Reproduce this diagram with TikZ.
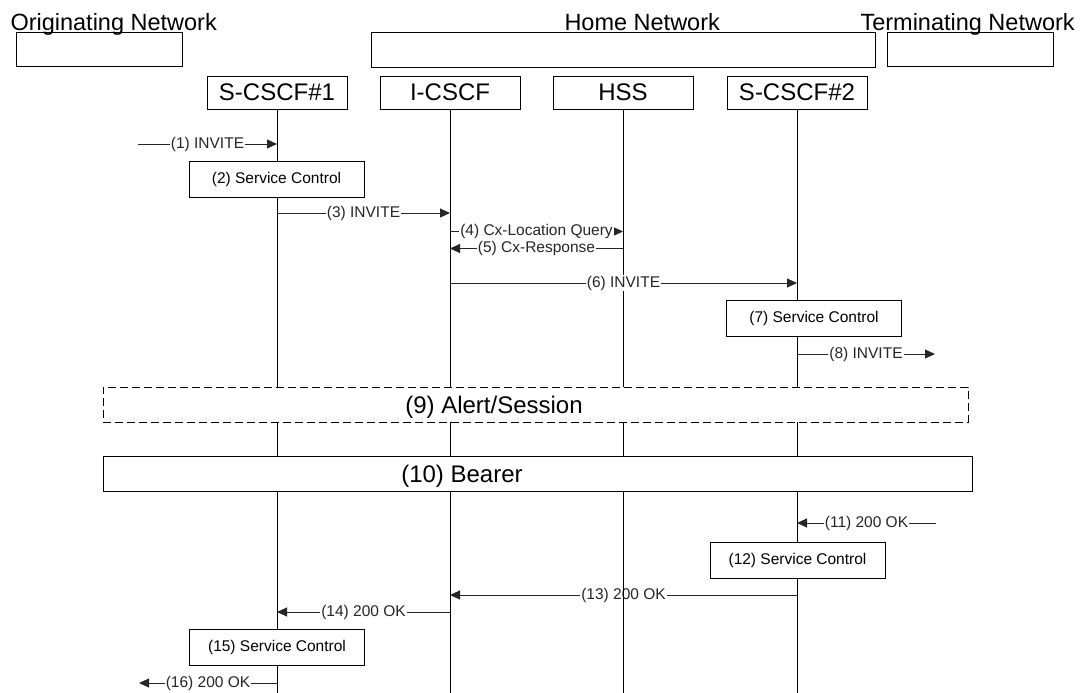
\documentclass[tikz,border=0pt]{standalone}
\usepackage{fontspec}
\setmainfont{Liberation Sans}
\usetikzlibrary{arrows.meta}

\begin{document}
\begin{tikzpicture}[x=1pt, y=-1pt, line width=1pt,
  every node/.style={font=\fontsize{15.5}{18}\selectfont},
  hdr/.style={font=\fontsize{23.5}{28}\selectfont, inner sep=0pt, anchor=base west},
  netbox/.style={draw, minimum height=34, inner sep=0pt},
  ent/.style={draw, fill=white, minimum width=140, minimum height=33, inner sep=0pt, font=\fontsize{24}{28}\selectfont},
  ctrl/.style={draw, fill=white, minimum width=175, minimum height=36, inner sep=0pt},
  phase/.style={draw, fill=white, minimum height=35, inner sep=0pt},
  big/.style={font=\fontsize{24}{28}\selectfont, inner sep=0pt, anchor=base},
  life/.style={black},
  msg/.style={black!85, -{Triangle[length=10pt, width=9pt]}},
  lbl/.style={fill=white, inner sep=1pt}]
  \useasboundingbox (0,0) rectangle (1081,693);
  \node[hdr] (ohdr) at (10,31) {Originating Network};
  \node[hdr] (hhdr) at (564,31) {Home Network};
  \node[hdr] (thdr) at (860,31) {Terminating Network};
  \node[netbox, minimum width=166] (onet) at (99,50) {};
  \node[netbox, minimum width=504, minimum height=35] (hnet) at (623,50.5) {};
  \node[netbox, minimum width=166] (tnet) at (970,50) {};
  \node[ent] (s1) at (277,92.5) {S-CSCF\#1};
  \node[ent] (ic) at (450,92.5) {I-CSCF};
  \node[ent] (hss) at (623,92.5) {HSS};
  \node[ent] (s2) at (797,92.5) {S-CSCF\#2};
  \draw[msg] (s2 |- 0,595) -- node[lbl] {(13) 200 OK} (ic |- 0,595);
  \coordinate (s1end) at (s1 |- 0,693); \coordinate (icend) at (ic |- 0,693);
  \coordinate (hssend) at (hss |- 0,693); \coordinate (s2end) at (s2 |- 0,693);
  \draw[life] (s1) -- (s1end); \draw[life] (ic) -- (icend);
  \draw[life] (hss) -- (hssend); \draw[life] (s2) -- (s2end);
  \coordinate (in1) at (138,144);
  \draw[msg] (in1) -- node[lbl] {(1) INVITE} (s1 |- in1);
  \node[ctrl] (sc2) at (276.5,179.5) {(2) Service Control};
  \draw[msg] (s1 |- 0,213) -- node[lbl] {(3) INVITE} (ic |- 0,213);
  \draw[msg] (ic |- 0,231.5) -- node[lbl] {(4) Cx-Location Query} (hss |- 0,231.5);
  \draw[msg] (hss |- 0,248.5) -- node[lbl] {(5) Cx-Response} (ic |- 0,248.5);
  \draw[msg] (ic |- 0,283) -- node[lbl] {(6) INVITE} (s2 |- 0,283);
  \node[ctrl] (sc7) at (814,318) {(7) Service Control};
  \coordinate (out8) at (935,354);
  \draw[msg] (s2 |- out8) -- node[lbl] {(8) INVITE} (out8);
  \node[phase, dash pattern=on 8pt off 4pt, minimum width=865] (alert) at (535.5,404.5) {};
  \node[big] (alertlbl) at (494,413) {(9) Alert/Session};
  \node[phase, minimum width=869] (bearer) at (537.5,473.5) {};
  \node[big] (bearerlbl) at (462,482) {(10) Bearer};
  \coordinate (in11) at (936,523);
  \draw[msg] (in11) -- node[lbl] {(11) 200 OK} (s2 |- in11);
  \node[ctrl] (sc12) at (797.5,560) {(12) Service Control};
  \draw[msg] (ic |- 0,612) -- node[lbl] {(14) 200 OK} (s1 |- 0,612);
  \node[ctrl] (sc15) at (277,647) {(15) Service Control};
  \coordinate (out16) at (139,683);
  \draw[msg] (s1 |- out16) -- node[lbl] {(16) 200 OK} (out16);
\end{tikzpicture}
\end{document}
